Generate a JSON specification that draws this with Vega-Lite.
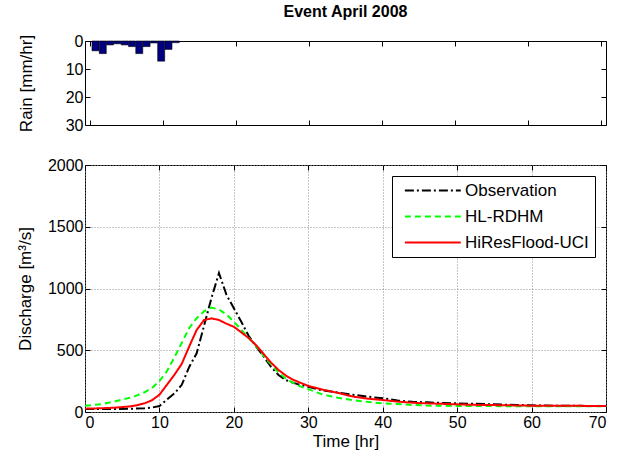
{
  "$schema": "https://vega.github.io/schema/vega-lite/v6.json",
  "padding": {"left": 15, "top": 3, "right": 5, "bottom": 5},
  "background": "white",
  "spacing": 40,
  "bounds": "flush",
  "config": {
    "font": "Liberation Sans",
    "view": {"stroke": "black", "strokeWidth": 1},
    "axis": {
      "labelFont": "Liberation Sans",
      "titleFont": "Liberation Sans",
      "labelFontSize": 16,
      "titleFontSize": 17,
      "titleFontWeight": "normal",
      "labelColor": "black",
      "titleColor": "black",
      "tickColor": "black",
      "domain": false,
      "tickSize": -5,
      "labelPadding": 7,
      "gridColor": "#8c8c8c",
      "gridDash": [1, 2],
      "gridWidth": 1,
      "gridOpacity": 1
    },
    "legend": {
      "labelFont": "Liberation Sans",
      "labelFontSize": 17,
      "labelColor": "black"
    }
  },
  "datasets": {
    "rain": [
      {"hour": 0.75, "rain": 3.5},
      {"hour": 1.75, "rain": 4.5},
      {"hour": 2.75, "rain": 1.4},
      {"hour": 3.75, "rain": 1.0},
      {"hour": 4.75, "rain": 1.4},
      {"hour": 5.75, "rain": 2.0},
      {"hour": 6.75, "rain": 4.5},
      {"hour": 7.75, "rain": 2.0},
      {"hour": 8.75, "rain": 0.7},
      {"hour": 9.75, "rain": 7.2},
      {"hour": 10.75, "rain": 3.0},
      {"hour": 11.75, "rain": 0.6}
    ],
    "flow": [
      {"t": 0, "Q": 25, "series": "Observation"},
      {"t": 2, "Q": 24, "series": "Observation"},
      {"t": 4, "Q": 24, "series": "Observation"},
      {"t": 6, "Q": 26, "series": "Observation"},
      {"t": 8, "Q": 30, "series": "Observation"},
      {"t": 9, "Q": 36, "series": "Observation"},
      {"t": 10, "Q": 48, "series": "Observation"},
      {"t": 11, "Q": 100, "series": "Observation"},
      {"t": 12, "Q": 150, "series": "Observation"},
      {"t": 13, "Q": 220, "series": "Observation"},
      {"t": 14, "Q": 365, "series": "Observation"},
      {"t": 15, "Q": 475, "series": "Observation"},
      {"t": 16, "Q": 700, "series": "Observation"},
      {"t": 17, "Q": 925, "series": "Observation"},
      {"t": 18, "Q": 1125, "series": "Observation"},
      {"t": 19, "Q": 950, "series": "Observation"},
      {"t": 20, "Q": 840, "series": "Observation"},
      {"t": 21, "Q": 730, "series": "Observation"},
      {"t": 22, "Q": 615, "series": "Observation"},
      {"t": 23, "Q": 530, "series": "Observation"},
      {"t": 24, "Q": 450, "series": "Observation"},
      {"t": 25, "Q": 365, "series": "Observation"},
      {"t": 26, "Q": 300, "series": "Observation"},
      {"t": 27, "Q": 258, "series": "Observation"},
      {"t": 28, "Q": 236, "series": "Observation"},
      {"t": 29, "Q": 218, "series": "Observation"},
      {"t": 30, "Q": 205, "series": "Observation"},
      {"t": 32, "Q": 174, "series": "Observation"},
      {"t": 34, "Q": 157, "series": "Observation"},
      {"t": 36, "Q": 140, "series": "Observation"},
      {"t": 38, "Q": 124, "series": "Observation"},
      {"t": 40, "Q": 111, "series": "Observation"},
      {"t": 42, "Q": 93, "series": "Observation"},
      {"t": 44, "Q": 83, "series": "Observation"},
      {"t": 46, "Q": 78, "series": "Observation"},
      {"t": 48, "Q": 73, "series": "Observation"},
      {"t": 50, "Q": 70, "series": "Observation"},
      {"t": 52, "Q": 67, "series": "Observation"},
      {"t": 54, "Q": 64, "series": "Observation"},
      {"t": 56, "Q": 60, "series": "Observation"},
      {"t": 58, "Q": 57, "series": "Observation"},
      {"t": 60, "Q": 54, "series": "Observation"},
      {"t": 62, "Q": 52, "series": "Observation"},
      {"t": 64, "Q": 51, "series": "Observation"},
      {"t": 66, "Q": 50, "series": "Observation"},
      {"t": 68, "Q": 49, "series": "Observation"},
      {"t": 70, "Q": 48, "series": "Observation"},
      {"t": 0, "Q": 50, "series": "HL-RDHM"},
      {"t": 2, "Q": 62, "series": "HL-RDHM"},
      {"t": 4, "Q": 85, "series": "HL-RDHM"},
      {"t": 5, "Q": 100, "series": "HL-RDHM"},
      {"t": 6, "Q": 115, "series": "HL-RDHM"},
      {"t": 7, "Q": 135, "series": "HL-RDHM"},
      {"t": 8, "Q": 160, "series": "HL-RDHM"},
      {"t": 9, "Q": 195, "series": "HL-RDHM"},
      {"t": 10, "Q": 250, "series": "HL-RDHM"},
      {"t": 11, "Q": 330, "series": "HL-RDHM"},
      {"t": 12, "Q": 440, "series": "HL-RDHM"},
      {"t": 13, "Q": 560, "series": "HL-RDHM"},
      {"t": 14, "Q": 680, "series": "HL-RDHM"},
      {"t": 15, "Q": 760, "series": "HL-RDHM"},
      {"t": 16, "Q": 815, "series": "HL-RDHM"},
      {"t": 17, "Q": 845, "series": "HL-RDHM"},
      {"t": 18, "Q": 830, "series": "HL-RDHM"},
      {"t": 19, "Q": 790, "series": "HL-RDHM"},
      {"t": 20, "Q": 730, "series": "HL-RDHM"},
      {"t": 21, "Q": 665, "series": "HL-RDHM"},
      {"t": 22, "Q": 600, "series": "HL-RDHM"},
      {"t": 23, "Q": 534, "series": "HL-RDHM"},
      {"t": 24, "Q": 455, "series": "HL-RDHM"},
      {"t": 25, "Q": 385, "series": "HL-RDHM"},
      {"t": 26, "Q": 320, "series": "HL-RDHM"},
      {"t": 27, "Q": 270, "series": "HL-RDHM"},
      {"t": 28, "Q": 235, "series": "HL-RDHM"},
      {"t": 29, "Q": 205, "series": "HL-RDHM"},
      {"t": 30, "Q": 185, "series": "HL-RDHM"},
      {"t": 32, "Q": 140, "series": "HL-RDHM"},
      {"t": 34, "Q": 115, "series": "HL-RDHM"},
      {"t": 36, "Q": 95, "series": "HL-RDHM"},
      {"t": 38, "Q": 82, "series": "HL-RDHM"},
      {"t": 40, "Q": 70, "series": "HL-RDHM"},
      {"t": 42, "Q": 64, "series": "HL-RDHM"},
      {"t": 44, "Q": 57, "series": "HL-RDHM"},
      {"t": 46, "Q": 52, "series": "HL-RDHM"},
      {"t": 48, "Q": 50, "series": "HL-RDHM"},
      {"t": 50, "Q": 49, "series": "HL-RDHM"},
      {"t": 54, "Q": 48, "series": "HL-RDHM"},
      {"t": 58, "Q": 47, "series": "HL-RDHM"},
      {"t": 62, "Q": 47, "series": "HL-RDHM"},
      {"t": 66, "Q": 47, "series": "HL-RDHM"},
      {"t": 70, "Q": 47, "series": "HL-RDHM"},
      {"t": 0, "Q": 27, "series": "HiResFlood-UCI"},
      {"t": 2, "Q": 30, "series": "HiResFlood-UCI"},
      {"t": 4, "Q": 35, "series": "HiResFlood-UCI"},
      {"t": 6, "Q": 45, "series": "HiResFlood-UCI"},
      {"t": 7, "Q": 55, "series": "HiResFlood-UCI"},
      {"t": 8, "Q": 70, "series": "HiResFlood-UCI"},
      {"t": 9, "Q": 95, "series": "HiResFlood-UCI"},
      {"t": 10, "Q": 140, "series": "HiResFlood-UCI"},
      {"t": 11, "Q": 220, "series": "HiResFlood-UCI"},
      {"t": 12, "Q": 300, "series": "HiResFlood-UCI"},
      {"t": 13, "Q": 390, "series": "HiResFlood-UCI"},
      {"t": 14, "Q": 530, "series": "HiResFlood-UCI"},
      {"t": 15, "Q": 664, "series": "HiResFlood-UCI"},
      {"t": 16, "Q": 745, "series": "HiResFlood-UCI"},
      {"t": 17, "Q": 758, "series": "HiResFlood-UCI"},
      {"t": 18, "Q": 745, "series": "HiResFlood-UCI"},
      {"t": 19, "Q": 715, "series": "HiResFlood-UCI"},
      {"t": 20, "Q": 690, "series": "HiResFlood-UCI"},
      {"t": 21, "Q": 645, "series": "HiResFlood-UCI"},
      {"t": 22, "Q": 598, "series": "HiResFlood-UCI"},
      {"t": 23, "Q": 540, "series": "HiResFlood-UCI"},
      {"t": 24, "Q": 470, "series": "HiResFlood-UCI"},
      {"t": 25, "Q": 400, "series": "HiResFlood-UCI"},
      {"t": 26, "Q": 340, "series": "HiResFlood-UCI"},
      {"t": 27, "Q": 295, "series": "HiResFlood-UCI"},
      {"t": 28, "Q": 260, "series": "HiResFlood-UCI"},
      {"t": 29, "Q": 235, "series": "HiResFlood-UCI"},
      {"t": 30, "Q": 211, "series": "HiResFlood-UCI"},
      {"t": 32, "Q": 180, "series": "HiResFlood-UCI"},
      {"t": 34, "Q": 155, "series": "HiResFlood-UCI"},
      {"t": 36, "Q": 125, "series": "HiResFlood-UCI"},
      {"t": 38, "Q": 108, "series": "HiResFlood-UCI"},
      {"t": 40, "Q": 97, "series": "HiResFlood-UCI"},
      {"t": 42, "Q": 84, "series": "HiResFlood-UCI"},
      {"t": 44, "Q": 75, "series": "HiResFlood-UCI"},
      {"t": 46, "Q": 70, "series": "HiResFlood-UCI"},
      {"t": 48, "Q": 66, "series": "HiResFlood-UCI"},
      {"t": 50, "Q": 62, "series": "HiResFlood-UCI"},
      {"t": 52, "Q": 58, "series": "HiResFlood-UCI"},
      {"t": 54, "Q": 57, "series": "HiResFlood-UCI"},
      {"t": 56, "Q": 55, "series": "HiResFlood-UCI"},
      {"t": 58, "Q": 53, "series": "HiResFlood-UCI"},
      {"t": 60, "Q": 51, "series": "HiResFlood-UCI"},
      {"t": 65, "Q": 50, "series": "HiResFlood-UCI"},
      {"t": 70, "Q": 49, "series": "HiResFlood-UCI"}
    ]
  },
  "vconcat": [
    {
      "width": 521,
      "height": 84,
      "title": {"text": "Event April 2008", "fontSize": 16, "fontWeight": "bold", "color": "black", "anchor": "middle", "offset": 13},
      "data": {"name": "rain"},
      "layer": [
        {
          "mark": {"type": "bar", "width": 7, "color": "#00007f", "stroke": "black", "strokeWidth": 0.6},
          "encoding": {
            "x": {"field": "hour", "type": "quantitative", "scale": {"domain": [0, 70], "nice": false},
                  "axis": {"values": [0, 10, 20, 30, 40, 50, 60, 70], "labels": false, "title": null, "grid": false, "orient": "bottom"}},
            "y": {"field": "rain", "type": "quantitative", "scale": {"domain": [0, 30], "reverse": true, "nice": false},
                  "axis": {"values": [0, 10, 20, 30], "title": "Rain [mm/hr]", "grid": false, "titlePadding": 30}}
          }
        },
        {
          "mark": {"type": "bar", "opacity": 0},
          "encoding": {
            "x": {"field": "hour", "type": "quantitative", "axis": {"values": [0, 10, 20, 30, 40, 50, 60, 70], "labels": false, "title": null, "grid": false, "orient": "top"}},
            "y": {"field": "rain", "type": "quantitative", "axis": {"values": [0, 10, 20, 30], "labels": false, "title": null, "grid": false, "orient": "right"}}
          }
        }
      ],
      "resolve": {"axis": {"x": "independent", "y": "independent"}}
    },
    {
      "width": 521,
      "height": 247,
      "data": {"name": "flow"},
      "layer": [
        {
          "mark": {"type": "line", "strokeWidth": 2},
          "encoding": {
            "x": {"field": "t", "type": "quantitative", "scale": {"domain": [0, 70], "nice": false},
                  "axis": {"values": [0, 10, 20, 30, 40, 50, 60, 70], "title": "Time [hr]", "grid": true, "orient": "bottom", "titlePadding": 3}},
            "y": {"field": "Q", "type": "quantitative", "scale": {"domain": [0, 2000], "nice": false},
                  "axis": {"values": [0, 500, 1000, 1500, 2000], "format": "d", "title": "Discharge [m³/s]", "grid": true, "titlePadding": 13}},
            "color": {"field": "series", "type": "nominal",
                      "scale": {"domain": ["Observation", "HL-RDHM", "HiResFlood-UCI"], "range": ["black", "#00ff00", "#ff0000"]},
                      "legend": {"title": null, "orient": "none", "legendX": 307, "legendY": 135, "symbolType": "M-0.29,0H9.71", "symbolSize": 125, "symbolStrokeWidth": 2, "strokeColor": "black", "fillColor": "white", "padding": 6, "labelOffset": 50, "rowPadding": 8}},
            "strokeDash": {"field": "series", "type": "nominal",
                           "scale": {"domain": ["Observation", "HL-RDHM", "HiResFlood-UCI"], "range": [[9, 3, 2, 3], [6, 4], [1, 0]]},
                           "legend": {"title": null, "orient": "none", "legendX": 307, "legendY": 135}}
          }
        },
        {
          "mark": {"type": "line", "opacity": 0},
          "encoding": {
            "x": {"field": "t", "type": "quantitative", "axis": {"values": [0, 10, 20, 30, 40, 50, 60, 70], "labels": false, "title": null, "grid": false, "orient": "top"}},
            "y": {"field": "Q", "type": "quantitative", "axis": {"values": [0, 500, 1000, 1500, 2000], "labels": false, "title": null, "grid": false, "orient": "right"}}
          }
        }
      ],
      "resolve": {"axis": {"x": "independent", "y": "independent"}}
    }
  ]
}
